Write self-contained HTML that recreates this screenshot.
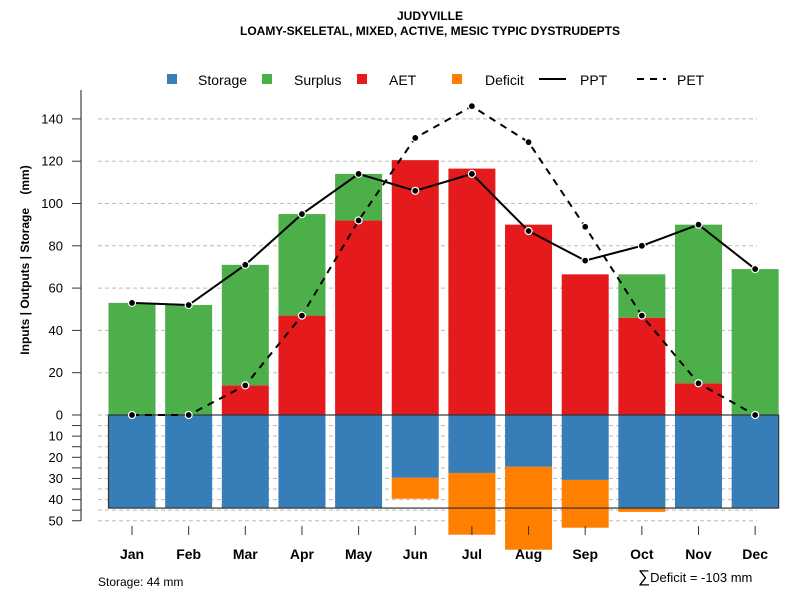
<!DOCTYPE html>
<html><head><meta charset="utf-8"><style>
body{margin:0;background:#fff;}
svg{display:block;font-family:"Liberation Sans",sans-serif;}
</style></head><body>
<svg id="c" width="800" height="600" viewBox="0 0 800 600">
<text x="430" y="20" text-anchor="middle" font-size="12" font-weight="bold">JUDYVILLE</text>
<text x="430" y="35" text-anchor="middle" font-size="12" font-weight="bold">LOAMY-SKELETAL, MIXED, ACTIVE, MESIC TYPIC DYSTRUDEPTS</text>
<g id="legend">
<rect x="167" y="74" width="10" height="10" fill="#377eb8"/>
<text x="198" y="85" font-size="14">Storage</text>
<rect x="262" y="74" width="10" height="10" fill="#4daf4a"/>
<text x="294" y="85" font-size="14">Surplus</text>
<rect x="357" y="74" width="10" height="10" fill="#e41a1c"/>
<text x="389" y="85" font-size="14">AET</text>
<rect x="452" y="74" width="10" height="10" fill="#ff7f00"/>
<text x="485" y="85" font-size="14">Deficit</text>
<line x1="539" y1="79" x2="566" y2="79" stroke="#000" stroke-width="2"/>
<text x="580" y="85" font-size="14">PPT</text>
<line x1="637" y1="79" x2="666" y2="79" stroke="#000" stroke-width="2" stroke-dasharray="7,6"/>
<text x="677" y="85" font-size="14">PET</text>
</g>
<text transform="translate(29,260) rotate(-90)" text-anchor="middle" font-size="12" font-weight="bold">Inputs | Outputs | Storage&#160;&#160;&#160;&#160;(mm)</text>
<g id="grid"></g><g id="bars"></g><g id="lines"></g><g id="axes"></g>
<text x="98" y="586" font-size="12">Storage: 44 mm</text>
<text x="638" y="582" font-size="13"><tspan font-size="17">∑</tspan>Deficit = -103 mm</text>
</svg>
<script>
const months=["Jan","Feb","Mar","Apr","May","Jun","Jul","Aug","Sep","Oct","Nov","Dec"];
const ppt=[53,52,71,95,114,106,114,87,73,80,90,69];
const pet=[0,0,14,47,92,131,146,129,89,47,15,0];
const aet=[0,0,14,47,92,120.5,116.5,90,66.5,46,15,0];
const surplus=[53,52,57,48,22,0,0,0,0,20.5,75,69];
const storage=[44,44,44,44,44,29.7,27.4,24.5,30.7,44,44,44];
const deficit=[0,0,0,0,0,9.9,29.2,39.2,22.6,1.8,0,0];
const capacity=44;
const upTicks=[0,20,40,60,80,100,120,140];
const downTicks=[10,20,30,40,50];
const NS="http://www.w3.org/2000/svg";
const y0=415, k=2.115;
const yU=v=>y0-v*k, yD=v=>y0+v*k;
const xc=i=>132+i*56.65, bw=47;
function mk(tag,attrs,parent){const e=document.createElementNS(NS,tag);for(const a in attrs)e.setAttribute(a,attrs[a]);document.getElementById(parent).appendChild(e);return e;}
upTicks.forEach(t=>{if(t===0)return;const e=mk("line",{x1:98,x2:757,y1:yU(t),y2:yU(t),stroke:"#bbb","stroke-dasharray":"4,3"},"grid");

});
for(let v=0;v<=50;v+=5){const e=mk("line",{x1:98,x2:757,y1:yD(v),y2:yD(v),stroke:"#bbb","stroke-dasharray":"4,3"},"grid");

}
months.forEach((m,i)=>{const x=xc(i)-bw/2;
let e=mk("rect",{x:x,y:yU(aet[i]),width:bw,height:aet[i]*k,fill:"#e41a1c"},"bars");


e=mk("rect",{x:x,y:yU(aet[i]+surplus[i]),width:bw,height:surplus[i]*k,fill:"#4daf4a"},"bars");


e=mk("rect",{x:x,y:y0,width:bw,height:storage[i]*k,fill:"#377eb8"},"bars");


e=mk("rect",{x:x,y:yD(storage[i]),width:bw,height:deficit[i]*k,fill:"#ff7f00"},"bars");


});
let fr=mk("rect",{x:xc(0)-bw/2,y:y0,width:xc(11)+bw/2-(xc(0)-bw/2),height:capacity*k,fill:"none",stroke:"#333","stroke-width":1.2},"bars");


function series(arr,name,dash){
 const pts=arr.map((v,i)=>xc(i)+","+yU(v)).join(" ");
 const p=mk("polyline",{points:pts,fill:"none",stroke:"#000","stroke-width":2,"stroke-dasharray":dash},"lines");
 
 
 arr.forEach((v,i)=>{const c=mk("circle",{cx:xc(i),cy:yU(v),r:3.5,fill:"#000",stroke:"#fff","stroke-width":1.2},"lines");
 
 });
}
series(pet,"pet","7,6");
series(ppt,"ppt","none");
let ax=mk("line",{x1:81,x2:81,y1:90,y2:yD(50),stroke:"#666","stroke-width":1.5},"axes");


upTicks.forEach(t=>{let e=mk("line",{x1:72,x2:81,y1:yU(t),y2:yU(t),stroke:"#333"},"axes");


e=mk("text",{x:63,y:yU(t)+4.5,"text-anchor":"end","font-size":13},"axes");e.textContent=t;

});
for(let v=5;v<=50;v+=5){let e=mk("line",{x1:72,x2:81,y1:yD(v),y2:yD(v),stroke:"#333"},"axes");

}
downTicks.forEach(t=>{let e=mk("text",{x:63,y:yD(t)+4.5,"text-anchor":"end","font-size":13},"axes");e.textContent=t;

});
months.forEach((m,i)=>{let e=mk("line",{x1:xc(i),x2:xc(i),y1:526,y2:535,stroke:"#333"},"axes");


e=mk("text",{x:xc(i),y:559,"text-anchor":"middle","font-size":14,"font-weight":"bold"},"axes");e.textContent=m;

});
</script>
</body></html>
